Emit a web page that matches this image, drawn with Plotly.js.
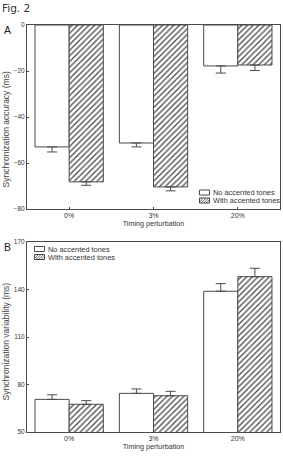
<!DOCTYPE html>
<html>
<head>
<meta charset="utf-8">
<script src="https://cdn.plot.ly/plotly-3.0.1.min.js"></script>
<style>html,body{margin:0;padding:0;background:#fff;}#chart{width:283px;height:456px;}</style>
</head>
<body>
<div id="chart"></div>
<script>
const categories = ['0%', '3%', '20%'];
const seriesNames = ['No accented tones', 'With accented tones'];
// Panel A: synchronization accuracy (ms)
const accNoAccent = [-53.0, -51.3, -17.8];
const accNoAccentErr = [2.2, 1.7, 3.1];
const accAccent = [-68.2, -70.4, -17.4];
const accAccentErr = [1.5, 1.7, 2.4];
// Panel B: synchronization variability (ms)
const varNoAccent = [70.6, 74.4, 138.9];
const varNoAccentErr = [2.9, 2.8, 4.8];
const varAccent = [67.5, 72.9, 148.1];
const varAccentErr = [2.3, 2.8, 5.3];
const noErr = [0, 0, 0];
const yTicksA = [0, -20, -40, -60, -80];
const yTicksB = [50, 80, 110, 140, 170];
const yTitleA = 'Synchronization accuracy (ms)';
const yTitleB = 'Synchronization variability (ms)';
const xTitle = 'Timing perturbation';

const W = 283, H = 456;
const M = {l: 27, r: 3, t: 25, b: 24};
const PW = W - M.l - M.r, PH = H - M.t - M.b;
const fx = px => (px - M.l) / PW;          // pixel x -> paper x
const fy = py => (H - M.b - py) / PH;      // pixel y -> paper y

const lineCol = '#4a4a4a';
const family = 'Liberation Sans, Arial, sans-serif';
const tickFontY = {family: family, size: 6.5, color: '#333'};
const tickFontX = {family: family, size: 7, color: '#333'};
const xTitleFont = {family: family, size: 7.2, color: '#333'};
const yTitleFont = {family: family, size: 8.5, color: '#444'};
const legFont = {family: family, size: 7.4, color: '#333'};
const plainMarker = {color: '#fff', line: {color: lineCol, width: 1}};
const hatchMarker = {color: '#fff', line: {color: lineCol, width: 1},
  pattern: {shape: '/', fgcolor: '#444', bgcolor: '#fff', size: 4, solidity: 0.3}};
function err(plus, minus) {
  return {type: 'data', symmetric: false, array: plus, arrayminus: minus,
          color: lineCol, thickness: 1, width: 5};
}

const traces = [
  {type: 'bar', x: categories, y: accNoAccent, name: seriesNames[0], marker: plainMarker,
   error_y: err(noErr, accNoAccentErr), xaxis: 'x', yaxis: 'y'},
  {type: 'bar', x: categories, y: accAccent, name: seriesNames[1], marker: hatchMarker,
   error_y: err(noErr, accAccentErr), xaxis: 'x', yaxis: 'y'},
  {type: 'bar', x: categories, y: varNoAccent, name: seriesNames[0], marker: plainMarker,
   error_y: err(varNoAccentErr, noErr), xaxis: 'x2', yaxis: 'y2'},
  {type: 'bar', x: categories, y: varAccent, name: seriesNames[1], marker: hatchMarker,
   error_y: err(varAccentErr, noErr), xaxis: 'x2', yaxis: 'y2'}
];

const axisCommon = {showline: true, linecolor: lineCol, linewidth: 1, mirror: true,
  showgrid: false, zeroline: false, ticks: 'inside', ticklen: 2, tickcolor: lineCol,
  automargin: false};

// compact legend drawn as swatches + text (like the original figure)
const shapes = [];
const annotations = [];
function hatchPath(x0, y0, x1, y1, step) {
  let d = '';
  for (let c = x0 + y0 + step / 2; c < x1 + y1; c += step) {
    const xa = Math.max(x0, c - y1), xb = Math.min(x1, c - y0);
    if (xb <= xa) continue;
    d += 'M' + fx(xa).toFixed(4) + ',' + fy(c - xa).toFixed(4) +
         'L' + fx(xb).toFixed(4) + ',' + fy(c - xb).toFixed(4);
  }
  return d;
}
function addLegend(sx, rows) {
  const sw = 10, sh = 5;
  rows.forEach((cy, i) => {
    const x0 = sx, x1 = sx + sw, y0 = cy - sh / 2, y1 = cy + sh / 2;
    shapes.push({type: 'rect', xref: 'paper', yref: 'paper', x0: fx(x0), x1: fx(x1),
      y0: fy(y1), y1: fy(y0), line: {color: lineCol, width: 1}, fillcolor: '#fff'});
    if (i === 1) {
      shapes.push({type: 'path', xref: 'paper', yref: 'paper', path: hatchPath(x0, y0, x1, y1, 2.6),
        line: {color: '#444', width: 0.8}});
    }
    annotations.push({text: seriesNames[i], xref: 'paper', yref: 'paper', x: fx(x1 + 2), y: fy(cy),
      xanchor: 'left', yanchor: 'middle', showarrow: false, font: legFont, borderpad: 0});
  });
}
addLegend(199.5, [192.5, 200.5]);
addLegend(34.5, [249, 257]);

annotations.push(
  {text: 'Fig. 2', xref: 'paper', yref: 'paper', x: fx(0.5), y: fy(8), xanchor: 'left', yanchor: 'middle',
   showarrow: false, font: {family: 'DejaVu Sans, sans-serif', size: 10.5, color: '#333'}, borderpad: 0},
  {text: 'A', xref: 'paper', yref: 'paper', x: fx(3), y: fy(29.5), xanchor: 'left', yanchor: 'middle',
   showarrow: false, font: {family: family, size: 10.5, color: '#222'}, borderpad: 0},
  {text: 'B', xref: 'paper', yref: 'paper', x: fx(2.5), y: fy(246.5), xanchor: 'left', yanchor: 'middle',
   showarrow: false, font: {family: family, size: 10.5, color: '#222'}, borderpad: 0},
  {text: yTitleA, xref: 'paper', yref: 'paper', x: fx(5.5), y: fy(130), xanchor: 'center', yanchor: 'middle',
   textangle: -90, showarrow: false, font: yTitleFont, borderpad: 0},
  {text: yTitleB, xref: 'paper', yref: 'paper', x: fx(5.5), y: fy(342), xanchor: 'center', yanchor: 'middle',
   textangle: -90, showarrow: false, font: yTitleFont, borderpad: 0}
);

const layout = {
  width: W, height: H,
  margin: M,
  paper_bgcolor: '#fff', plot_bgcolor: '#fff',
  font: {family: family, size: 7, color: '#333'},
  barmode: 'group', bargap: 0.19, bargroupgap: 0,
  showlegend: false,
  xaxis: Object.assign({}, axisCommon, {type: 'category', domain: [0, 1], anchor: 'y', range: [-0.5, 2.5],
    tickfont: tickFontX, title: {text: xTitle, font: xTitleFont, standoff: 0}}),
  yaxis: Object.assign({}, axisCommon, {domain: [fy(209), 1], anchor: 'x', range: [-80, 0],
    tickvals: yTicksA, tickfont: tickFontY}),
  xaxis2: Object.assign({}, axisCommon, {type: 'category', domain: [0, 1], anchor: 'y2', range: [-0.5, 2.5],
    tickfont: tickFontX, title: {text: xTitle, font: xTitleFont, standoff: 0}}),
  yaxis2: Object.assign({}, axisCommon, {domain: [0, fy(242)], anchor: 'x2', range: [50, 170],
    tickvals: yTicksB, tickfont: tickFontY}),
  shapes: shapes,
  annotations: annotations
};

Plotly.newPlot('chart', traces, layout, {staticPlot: true, displayModeBar: false});
</script>
</body>
</html>
